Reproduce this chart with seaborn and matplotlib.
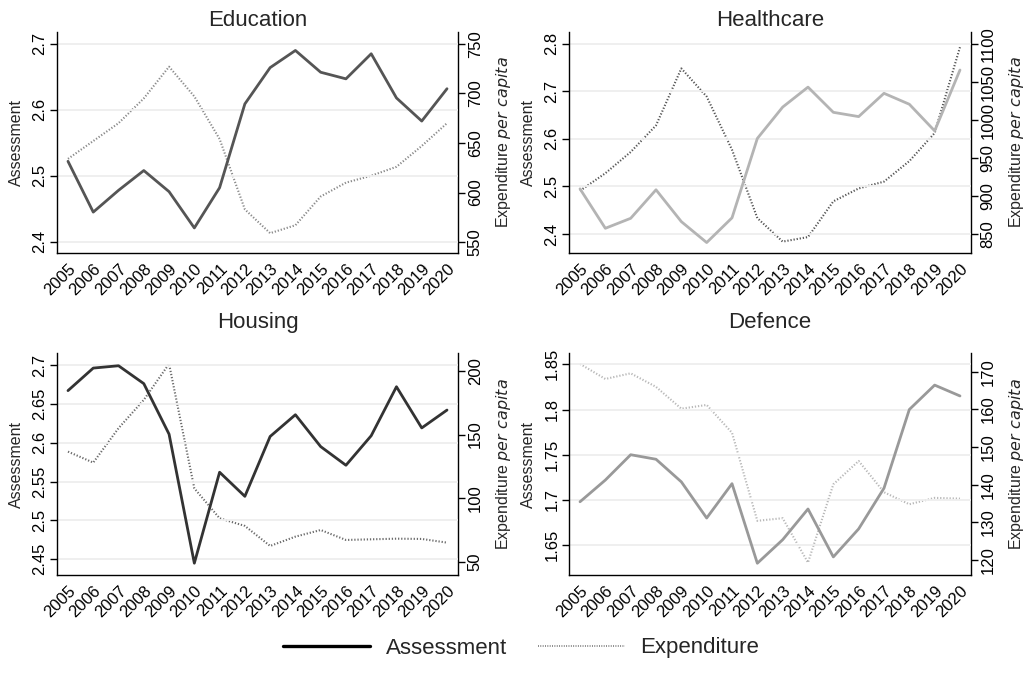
import matplotlib
matplotlib.use("Agg")
import matplotlib.pyplot as plt
import seaborn as sns
import pandas as pd
from matplotlib.lines import Line2D

sns.set_style("white")
plt.rcParams['font.family'] = ['Liberation Sans', 'DejaVu Sans']

years = list(range(2005, 2021))

edu_assess = [2.522, 2.445, 2.478, 2.508, 2.476, 2.421, 2.482, 2.609, 2.664, 2.690,
              2.657, 2.647, 2.685, 2.618, 2.583, 2.632]
edu_exp = [634, 652, 670, 695, 727, 697, 654, 583, 559, 567, 596, 610, 617, 626, 647, 670]

health_assess = [2.495, 2.412, 2.433, 2.493, 2.426, 2.382, 2.434, 2.601, 2.667, 2.709,
                 2.656, 2.647, 2.696, 2.673, 2.617, 2.745]
health_exp = [907, 930, 958, 993, 1068, 1031, 961, 871, 840, 846, 893, 910, 919, 946, 983, 1096]

housing_assess = [2.667, 2.696, 2.699, 2.676, 2.611, 2.445, 2.562, 2.531, 2.608, 2.636,
                  2.595, 2.571, 2.609, 2.672, 2.619, 2.642]
housing_exp = [136.6, 128.0, 155.0, 177.2, 205.5, 107.8, 84.3, 78.3, 62.6, 69.9,
               75.1, 67.3, 67.8, 68.3, 68.1, 65.2]

defence_assess = [1.698, 1.722, 1.750, 1.745, 1.720, 1.680, 1.718, 1.630, 1.656, 1.690,
                  1.637, 1.668, 1.713, 1.800, 1.827, 1.815]
defence_exp = [172.1, 168.1, 169.6, 166.0, 160.2, 161.2, 153.8, 130.4, 131.1, 119.3,
               140.1, 146.3, 138.0, 134.8, 136.5, 136.3]

panels = [
    dict(title="Education", a=edu_assess, e=edu_exp, ca="#555555", ce="#8a8a8a",
         ylim=(2.383, 2.718), yt=[2.4, 2.5, 2.6, 2.7], ylab=["2.4", "2.5", "2.6", "2.7"],
         y2lim=(539, 762), y2t=[550, 600, 650, 700, 750],
         rect=[57, 32, 458, 253], tpad=4),
    dict(title="Healthcare", a=health_assess, e=health_exp, ca="#b4b4b4", ce="#555555",
         ylim=(2.36, 2.825), yt=[2.4, 2.5, 2.6, 2.7, 2.8], ylab=["2.4", "2.5", "2.6", "2.7", "2.8"],
         y2lim=(825, 1116), y2t=[850, 900, 950, 1000, 1050, 1100],
         rect=[569, 32, 971, 253], tpad=4),
    dict(title="Housing", a=housing_assess, e=housing_exp, ca="#333333", ce="#6a6a6a",
         ylim=(2.4298, 2.7154), yt=[2.45, 2.5, 2.55, 2.6, 2.65, 2.7],
         ylab=["2.45", "2.5", "2.55", "2.6", "2.65", "2.7"],
         y2lim=(39.8, 214), y2t=[50, 100, 150, 200],
         rect=[57, 353, 458, 575], tpad=18),
    dict(title="Defence", a=defence_assess, e=defence_exp, ca="#999999", ce="#b8b8b8",
         ylim=(1.617, 1.8625), yt=[1.65, 1.7, 1.75, 1.8, 1.85],
         ylab=["1.65", "1.7", "1.75", "1.8", "1.85"],
         y2lim=(116, 175), y2t=[120, 130, 140, 150, 160, 170],
         rect=[569, 353, 971, 575], tpad=18),
]

W, H = 1032, 673
fig = plt.figure(figsize=(W / 100, H / 100), dpi=100)

for p in panels:
    l, t, r, b = p["rect"]
    ax = fig.add_axes([l / W, 1 - b / H, (r - l) / W, (b - t) / H])
    df = pd.DataFrame({"year": years, "assess": p["a"], "exp": p["e"]})
    for yv in p["yt"]:
        ax.axhline(yv, color="#eeeeee", lw=1.3, zorder=0)
    sns.lineplot(data=df, x="year", y="assess", ax=ax, color=p["ca"], lw=2.0, zorder=3)
    ax2 = ax.twinx()
    sns.lineplot(data=df, x="year", y="exp", ax=ax2, color=p["ce"], lw=1.5,
                 linestyle=(0, (0.6, 0.9)), zorder=2)
    ax.set_zorder(ax2.get_zorder() + 1)
    ax.patch.set_visible(False)

    ax.set_xlim(2004.565, 2020.435)
    ax.set_xticks(years)
    ax.set_xticklabels([str(y) for y in years], rotation=45, ha="right",
                       rotation_mode="anchor", fontsize=12)
    ax.set_ylim(*p["ylim"])
    ax.set_yticks(p["yt"])
    ax.set_yticklabels(p["ylab"], rotation=90, va="center", fontsize=12)
    ax2.set_ylim(*p["y2lim"])
    ax2.set_yticks(p["y2t"])
    ax2.set_yticklabels([str(v) for v in p["y2t"]], rotation=90, va="center", fontsize=12)

    ax.set_xlabel("")
    ax.set_ylabel("Assessment", fontsize=11.5, labelpad=6)
    ax2.set_ylabel("Expenditure $\\it{per\\ capita}$", fontsize=11.5, labelpad=8)
    ax.set_title(p["title"], fontsize=16, pad=p["tpad"])

    for a in (ax, ax2):
        a.spines["top"].set_visible(False)
        for s in ("left", "right", "bottom"):
            a.spines[s].set_color("black")
            a.spines[s].set_linewidth(1.0)
        a.tick_params(axis="both", which="major", direction="out", length=5,
                      width=1.0, color="black", labelcolor="black", pad=2)
    ax.spines["right"].set_visible(False)
    ax2.spines["left"].set_visible(False)
    ax2.spines["bottom"].set_visible(False)
    ax.tick_params(axis="x", pad=1)

handles = [
    Line2D([0], [0], color="black", lw=2.4, linestyle="-"),
    Line2D([0], [0], color="#777777", lw=1.3, linestyle=(0, (0.5, 0.8))),
]
fig.legend(handles, ["Assessment", "Expenditure"], loc="center",
           bbox_to_anchor=(0.505, 1 - 648 / H), ncol=2, frameon=False,
           fontsize=16, handlelength=3.9, columnspacing=1.4, handletextpad=0.7)

fig.savefig("out.png", dpi=100)
